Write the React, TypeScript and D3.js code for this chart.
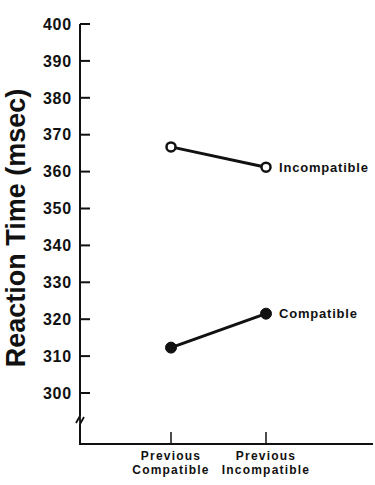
import React from "react";
import * as d3 from "d3";

const categories = ["Previous Compatible", "Previous Incompatible"];
const categoryLines = [["Previous", "Compatible"], ["Previous", "Incompatible"]];
const incompatibleValues = [366.7, 361.2];
const compatibleValues = [312.3, 321.5];
const yTicks = [300, 310, 320, 330, 340, 350, 360, 370, 380, 390, 400];
const seriesNames = ["Incompatible", "Compatible"];

const W = 375;
const H = 485;
const FONT = "'Liberation Sans', Arial, Helvetica, sans-serif";

export default function App() {
  const y = d3.scaleLinear().domain([300, 400]).range([393, 24]);
  const x = d3.scalePoint<string>().domain(categories).range([171, 266]);
  const axisX = 80;
  const baseY = 444;
  const line = d3
    .line<number>()
    .x((_, i) => x(categories[i]) as number)
    .y((d) => y(d));

  const series = [
    { name: seriesNames[0], values: incompatibleValues, open: true },
    { name: seriesNames[1], values: compatibleValues, open: false },
  ];

  return (
    <svg
      width={W}
      height={H}
      style={{ position: "absolute", left: 0, top: 0, background: "#fff" }}
      fontFamily={FONT}
    >
      {/* Y axis */}
      <path d={`M${axisX},${y(400)}V${416}`} stroke="#111" strokeWidth={2} fill="none" />
      <path d={`M${axisX},${424}V${baseY}H${373}`} stroke="#111" strokeWidth={2} fill="none" />
      {/* break mark */}
      <path
        d={`M${axisX - 4},${423} L${axisX},${416} L${axisX},${424} L${axisX + 4},${417}`}
        stroke="#111"
        strokeWidth={1.8}
        fill="none"
      />
      {yTicks.map((t) => (
        <g key={t}>
          <line x1={axisX} x2={axisX + 10} y1={y(t)} y2={y(t)} stroke="#111" strokeWidth={2} />
          <text
            x={72}
            y={y(t)}
            dy="0.36em"
            textAnchor="end"
            fontSize={16}
            fontWeight="bold"
            letterSpacing={0.8}
            fill="#111"
          >
            {t}
          </text>
        </g>
      ))}
      {/* X ticks */}
      {categories.map((c, i) => (
        <g key={c}>
          <line
            x1={x(c)}
            x2={x(c)}
            y1={baseY}
            y2={baseY - 12}
            stroke="#111"
            strokeWidth={1.5}
          />
          {categoryLines[i].map((l, j) => (
            <text
              key={j}
              x={x(c) as number}
              y={460 + j * 14}
              textAnchor="middle"
              fontSize={12}
              fontWeight="bold"
              letterSpacing={1.2}
              fill="#111"
            >
              {l}
            </text>
          ))}
        </g>
      ))}
      {/* Y title */}
      <text
        transform={`translate(25,228) rotate(-90)`}
        textAnchor="middle"
        fontSize={27}
        fontWeight="bold"
        fill="#111"
      >
        Reaction Time (msec)
      </text>
      {/* Series */}
      {series.map((s) => (
        <g key={s.name}>
          <path d={line(s.values) || ""} stroke="#111" strokeWidth={3} fill="none" />
          {s.values.map((v, i) => (
            <circle
              key={i}
              cx={x(categories[i])}
              cy={y(v)}
              r={s.open ? 4.5 : 5.5}
              fill={s.open ? "#fff" : "#111"}
              stroke="#111"
              strokeWidth={s.open ? 2.5 : 1}
            />
          ))}
          <text
            x={(x(categories[1]) as number) + 13}
            y={y(s.values[1])}
            dy="0.36em"
            fontSize={13}
            fontWeight="bold"
            letterSpacing={0.8}
            fill="#111"
          >
            {s.name}
          </text>
        </g>
      ))}
    </svg>
  );
}
